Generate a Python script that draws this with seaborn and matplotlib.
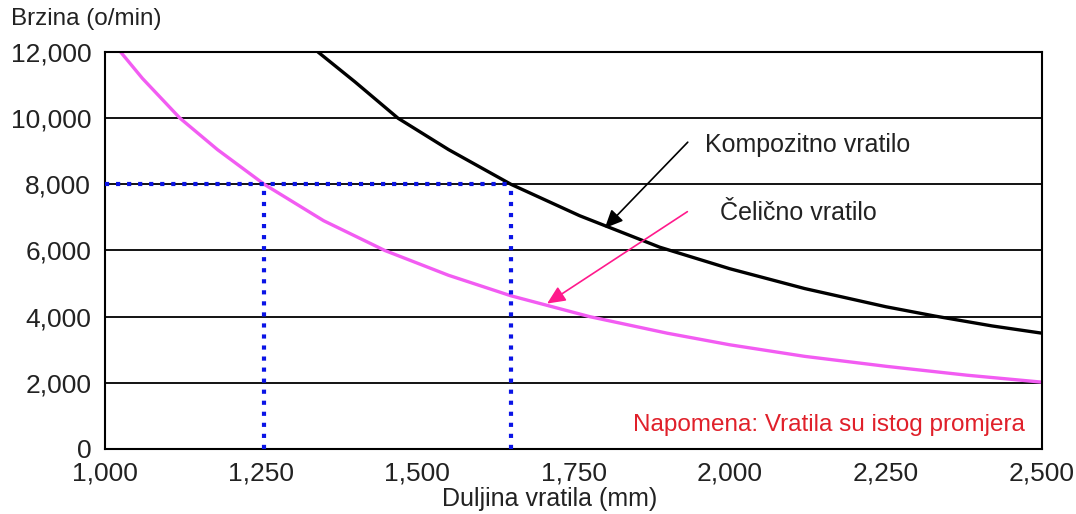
import numpy as np
import pandas as pd
import matplotlib
matplotlib.use("Agg")
import matplotlib.pyplot as plt
import seaborn as sns
from matplotlib.ticker import MultipleLocator, FuncFormatter

# values
celik_x = [1025, 1060, 1120, 1180, 1255, 1350, 1448, 1550, 1650, 1776, 1900, 2000, 2120, 2250, 2380, 2500]
celik_y = [12000, 11200, 10000, 9050, 8000, 6900, 6000, 5250, 4630, 4000, 3500, 3150, 2800, 2500, 2230, 2020]
komp_x = [1341, 1400, 1469, 1550, 1650, 1760, 1888, 2000, 2120, 2250, 2328, 2420, 2500]
komp_y = [12000, 11100, 10000, 9050, 8000, 7050, 6100, 5450, 4850, 4300, 4020, 3720, 3500]
ref_speed = 8000
ref_lengths = [1255, 1650]

df = pd.concat([
    pd.DataFrame({"x": celik_x, "y": celik_y, "vratilo": "Čelično vratilo"}),
    pd.DataFrame({"x": komp_x, "y": komp_y, "vratilo": "Kompozitno vratilo"}),
])

sns.set_style("white")
plt.rcParams["font.family"] = ["Liberation Sans", "DejaVu Sans"]

fig = plt.figure(figsize=(10.76, 5.14), dpi=100)
ax = fig.add_axes([0.0976, 0.1265, 0.8708, 0.7723])

sns.lineplot(data=df, x="x", y="y", hue="vratilo",
             palette={"Čelično vratilo": "#f25cf2", "Kompozitno vratilo": "black"},
             linewidth=2.4, legend=False, ax=ax, sort=True)

# reference dotted lines
ax.plot([1000, ref_lengths[1]], [ref_speed, ref_speed], color="#0a14e6", lw=3, ls=":", zorder=3)
for L in ref_lengths:
    ax.plot([L, L], [0, ref_speed], color="#0a14e6", lw=3, ls=":", zorder=3)

ax.set_xlim(1000, 2500)
ax.set_ylim(0, 12000)
ax.xaxis.set_major_locator(MultipleLocator(250))
ax.xaxis.set_minor_locator(MultipleLocator(125))
ax.yaxis.set_major_locator(MultipleLocator(2000))
ax.yaxis.set_minor_locator(MultipleLocator(1000))
fmt = FuncFormatter(lambda v, p: f"{int(v):,}")
ax.xaxis.set_major_formatter(fmt)
ax.yaxis.set_major_formatter(fmt)

ax.grid(axis="y", which="major", color="black", lw=1.3)
ax.set_axisbelow(True)
ax.tick_params(axis="both", which="major", direction="in", length=9, width=1.3,
               labelsize=19, labelcolor="#222222", top=False, right=False)
ax.tick_params(axis="x", which="major", pad=9)
ax.tick_params(axis="y", which="major", length=0, pad=10)
ax.tick_params(axis="both", which="minor", direction="in", length=5, width=1.3)
for s in ax.spines.values():
    s.set_color("black")
    s.set_linewidth(1.5)

ax.set_xlabel("Duljina vratila (mm)", fontsize=18, color="#222222")
ax.xaxis.set_label_coords(0.475, -0.095)
ax.set_ylabel("")
fig.text(0.010, 0.963, "Brzina (o/min)", fontsize=17.5, color="#222222", va="center", ha="left")

ax.annotate("", xy=(1797, 6616), xytext=(1936, 9335),
            arrowprops=dict(arrowstyle="-|>,head_length=1.1,head_width=0.5", color="black", lw=1.2))
ax.text(1960, 9200, "Kompozitno vratilo", fontsize=18, color="#222222", va="center", ha="left")
ax.annotate("", xy=(1704, 4350), xytext=(1936, 7220),
            arrowprops=dict(arrowstyle="-|>,head_length=1.1,head_width=0.5", color="#ff1a8c", lw=1.2))
ax.text(1984, 7130, "Čelično vratilo", fontsize=18, color="#222222", va="center", ha="left")

ax.text(2473, 730, "Napomena: Vratila su istog promjera", fontsize=17.5, color="#e0202a",
        va="center", ha="right")

fig.savefig("out.png", dpi=100)
